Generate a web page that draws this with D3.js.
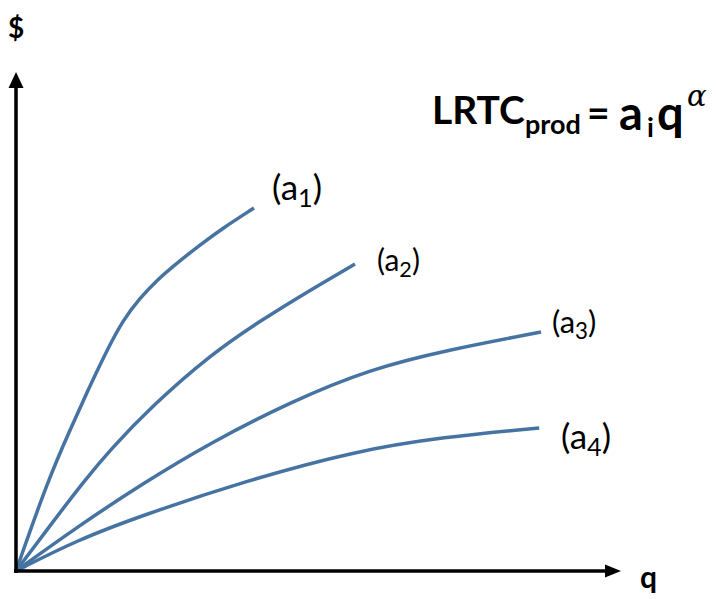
<!DOCTYPE html>
<html><head><meta charset="utf-8">
<script src="https://cdn.jsdelivr.net/npm/d3@7"></script>
<style>html,body{margin:0;padding:0;background:#fff;}</style>
</head><body><svg id="c" width="716" height="599"></svg>
<script>
// Data (q, cost) in arbitrary units
const seriesNames = ["a1", "a2", "a3", "a4"];
const a1_q = [0, 5.33, 9, 12, 15.17, 17.83, 20.67, 23.5, 26.83, 30.67, 34.5, 39.67];
const a1_v = [0, 18.2, 28.2, 36.2, 44.2, 50.2, 54.6, 58.2, 61.6, 65.2, 68.6, 72.6];
const a2_q = [0, 6, 11.5, 15.67, 22.67, 32.33, 40.67, 48.5, 56.5];
const a2_v = [0, 9.6, 18.2, 24.2, 33, 43.2, 50, 55.8, 61.4];
const a3_q = [0, 10.17, 21.5, 32.33, 45.67, 59, 71.83, 87.5];
const a3_v = [0, 8.8, 17.8, 25.6, 33.8, 40.4, 44.2, 47.8];
const a4_q = [0, 10.2, 21.2, 38.2, 56.5, 71.2, 87.2];
const a4_v = [0, 6.2, 11.2, 18, 24, 26.8, 28.6];

const svg = d3.select("#c");
const x = d3.scaleLinear().domain([0, 100]).range([16, 616]);
const y = d3.scaleLinear().domain([0, 100]).range([571, 71]);
const blue = "#4673a1";
const font = "Lato, 'Open Sans', sans-serif";

const series = [[a1_q, a1_v], [a2_q, a2_v], [a3_q, a3_v], [a4_q, a4_v]];
const line = d3.line().x(d => x(d[0])).y(d => y(d[1])).curve(d3.curveBasis);
series.forEach(([qs, vs]) => {
  svg.append("path").datum(qs.map((q, i) => [q, vs[i]]))
    .attr("d", line).attr("fill", "none").attr("stroke", blue)
    .attr("stroke-width", 3.5).attr("stroke-linecap", "butt");
});

// Axes with arrows
svg.append("line").attr("x1", x(0)).attr("y1", y(0) + 2).attr("x2", x(0)).attr("y2", 86)
  .attr("stroke", "#000").attr("stroke-width", 3.5);
svg.append("path").attr("d", `M${x(0)},72 L${x(0) - 7.5},88 L${x(0) + 7.5},88 Z`).attr("fill", "#000");
svg.append("line").attr("x1", x(0) - 2).attr("y1", y(0)).attr("x2", 607).attr("y2", y(0))
  .attr("stroke", "#000").attr("stroke-width", 3.5);
svg.append("path").attr("d", `M621,${y(0)} L605,${y(0) - 6.5} L605,${y(0) + 6.5} Z`).attr("fill", "#000");

svg.append("text").attr("x", 8).attr("y", 38).attr("font-family", font).attr("font-weight", "bold")
  .attr("font-size", 28).text("$");
svg.append("text").attr("x", 640).attr("y", 588).attr("font-family", font).attr("font-weight", "bold")
  .attr("font-size", 30).text("q");

// Formula pieces
const formula = [
  {t: "LRTC", x: 432, y: 124, fs: 39},
  {t: "prod", x: 525, y: 134, fs: 27},
  {t: "=", x: 587, y: 127, fs: 39},
  {t: "a", x: 619, y: 130, fs: 47},
  {t: "i", x: 647, y: 137, fs: 27},
  {t: "q", x: 657, y: 130, fs: 47}
];
formula.forEach(p => {
  svg.append("text").attr("x", p.x).attr("y", p.y).attr("font-family", font)
    .attr("font-weight", "bold").attr("font-size", p.fs).text(p.t);
});
svg.append("text").attr("x", 687).attr("y", 106).attr("font-family", "'DejaVu Serif', serif")
  .attr("font-style", "italic").attr("font-size", 29).text("α");

// Curve labels
const labels = [
  {s: "1", x: 272, y: 200, fs: 35},
  {s: "2", x: 377, y: 271, fs: 30},
  {s: "3", x: 552, y: 333, fs: 31},
  {s: "4", x: 561, y: 449, fs: 35}
];
labels.forEach(l => {
  const t = svg.append("text").attr("x", l.x).attr("y", l.y).attr("font-family", font)
    .attr("font-size", l.fs).attr("fill", "#000");
  t.append("tspan").text("(a");
  t.append("tspan").attr("font-size", l.fs * 0.72).attr("dy", l.fs * 0.2).text(l.s);
  t.append("tspan").attr("dy", -l.fs * 0.2).text(")");
});
</script></body></html>
